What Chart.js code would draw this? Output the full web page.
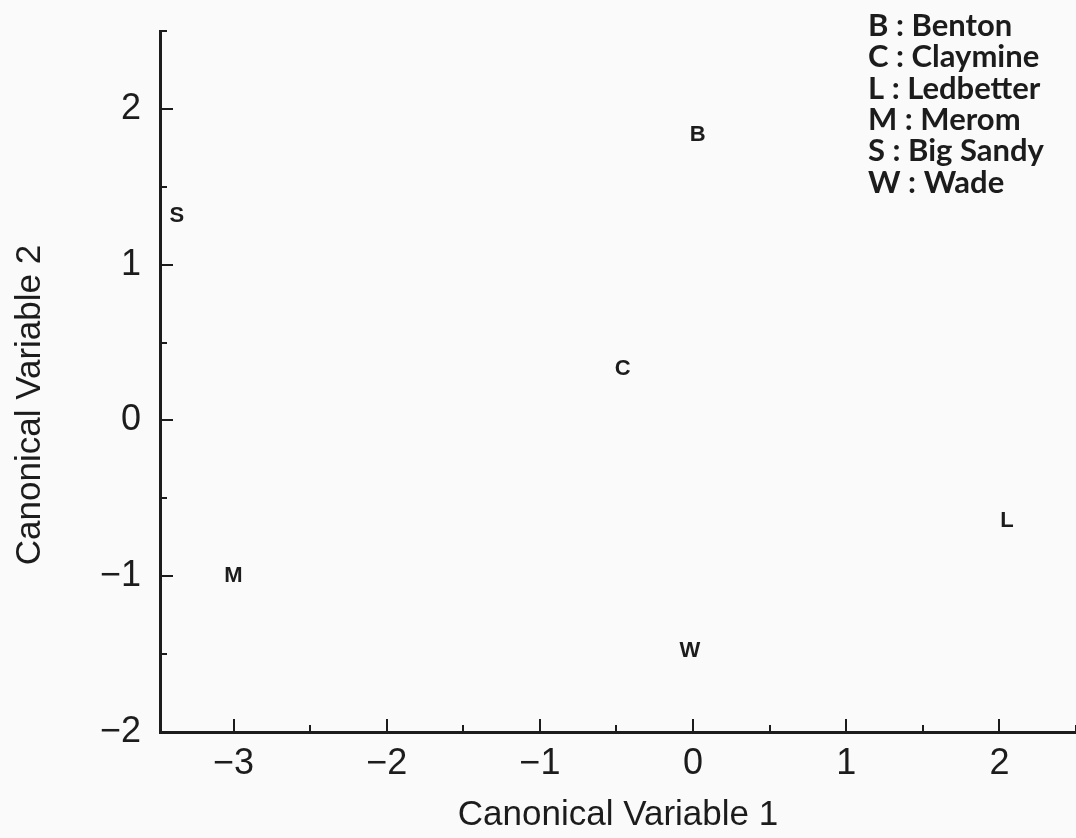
<!DOCTYPE html>
<html>
<head>
<meta charset="utf-8">
<script src="https://cdn.jsdelivr.net/npm/chart.js@4/dist/chart.umd.min.js"></script>
<style>
  html, body { margin: 0; padding: 0; background: #fafafa; }
  #wrap { width: 1076px; height: 838px; }
</style>
</head>
<body>
<div id="wrap"><canvas id="c" width="1076" height="838"></canvas></div>
<script>
// ---- data ----
const siteCodes = ['B', 'C', 'L', 'M', 'S', 'W'];
const siteNames = ['Benton', 'Claymine', 'Ledbetter', 'Merom', 'Big Sandy', 'Wade'];
const canon1 = [0.03, -0.46, 2.05, -3.00, -3.37, -0.02];
const canon2 = [1.84, 0.34, -0.64, -0.99, 1.32, -1.47];
const xTicks = [-3, -2, -1, 0, 1, 2];
const xTickLabels = ['\u22123', '\u22122', '\u22121', '0', '1', '2'];
const yTicks = [-2, -1, 0, 1, 2];
const yTickLabels = ['\u22122', '\u22121', '0', '1', '2'];
const xTitle = 'Canonical Variable 1';
const yTitle = 'Canonical Variable 2';

const INK = '#1c1c1c';
const points = canon1.map((x, i) => ({ x: x, y: canon2[i] }));

const inwardTicks = {
  id: 'inwardTicks',
  afterDatasetsDraw(chart) {
    const ctx = chart.ctx;
    const xs = chart.scales.x, ys = chart.scales.y;
    const area = chart.chartArea;
    ctx.save();
    ctx.strokeStyle = INK;
    ctx.lineWidth = 2;
    const xMinors = [];
    for (let i = 0; i < xTicks.length; i++) xMinors.push(xTicks[i] - 0.5);
    xMinors.push(xTicks[xTicks.length - 1] + 0.5);
    const drawX = (v, len) => {
      if (v < xs.min || v > xs.max) return;
      const px = Math.round(xs.getPixelForValue(v));
      ctx.beginPath(); ctx.moveTo(px, area.bottom); ctx.lineTo(px, area.bottom - len); ctx.stroke();
    };
    xTicks.forEach(v => drawX(v, 13));
    xMinors.forEach(v => drawX(v, 7));
    const yMinors = [];
    for (let i = 0; i < yTicks.length; i++) yMinors.push(yTicks[i] + 0.5);
    const drawY = (v, len) => {
      if (v < ys.min || v > ys.max) return;
      const py = Math.round(ys.getPixelForValue(v));
      ctx.beginPath(); ctx.moveTo(area.left, py); ctx.lineTo(area.left + len, py); ctx.stroke();
    };
    yTicks.forEach(v => drawY(v, 13));
    yMinors.forEach(v => drawY(v, 7));
    ctx.restore();
  }
};

const letterMarks = {
  id: 'letterMarks',
  afterDatasetsDraw(chart) {
    const ctx = chart.ctx;
    const meta = chart.getDatasetMeta(0);
    ctx.save();
    ctx.fillStyle = INK;
    ctx.font = 'bold 22px "Liberation Sans", Arial, sans-serif';
    ctx.textAlign = 'center';
    ctx.textBaseline = 'middle';
    meta.data.forEach((el, i) => {
      ctx.fillText(siteCodes[i], el.x, el.y + 1);
    });
    ctx.restore();
  }
};

const siteKey = {
  id: 'siteKey',
  afterDraw(chart) {
    const ctx = chart.ctx;
    ctx.save();
    ctx.fillStyle = INK;
    ctx.font = 'bold 31px Lato, "Open Sans", sans-serif';
    ctx.textAlign = 'left';
    ctx.textBaseline = 'alphabetic';
    siteCodes.forEach((c, i) => {
      ctx.fillText(c + ' : ' + siteNames[i], 868, 36 + i * 31.3);
    });
    ctx.restore();
  }
};

const yAxisTitle = {
  id: 'yAxisTitle',
  afterDraw(chart) {
    const ctx = chart.ctx;
    ctx.save();
    ctx.fillStyle = INK;
    ctx.font = '35px "Liberation Sans", Arial, sans-serif';
    ctx.textAlign = 'center';
    ctx.textBaseline = 'middle';
    ctx.translate(30, 405);
    ctx.rotate(-Math.PI / 2);
    ctx.fillText(yTitle, 0, 0);
    ctx.restore();
  }
};

const tickFont = { family: '"Liberation Sans", Arial, sans-serif', size: 36 };

new Chart(document.getElementById('c'), {
  type: 'scatter',
  data: {
    datasets: [{
      label: 'sites',
      data: points,
      pointRadius: 0,
      pointHoverRadius: 0,
      showLine: false
    }]
  },
  options: {
    responsive: false,
    animation: false,
    events: [],
    layout: { padding: { top: 31, left: 0, right: 0, bottom: 0 } },
    plugins: {
      legend: { display: false },
      tooltip: { enabled: false }
    },
    scales: {
      x: {
        type: 'linear',
        min: -3.48,
        max: 2.5,
        afterBuildTicks: s => { s.ticks = xTicks.map(v => ({ value: v })); },
        afterFit: s => { s.height = 106; s.paddingLeft = 0; s.paddingRight = 0; },
        grid: { display: true, drawOnChartArea: false, drawTicks: false },
        border: { display: true, color: INK, width: 3 },
        ticks: {
          autoSkip: false,
          maxRotation: 0,
          padding: 10,
          color: INK,
          font: tickFont,
          callback: (v) => { const i = xTicks.indexOf(v); return i >= 0 ? xTickLabels[i] : ''; }
        },
        title: {
          display: true,
          text: xTitle,
          color: INK,
          font: { family: '"Liberation Sans", Arial, sans-serif', size: 35 },
          padding: { top: 0, bottom: 2 }
        }
      },
      y: {
        type: 'linear',
        min: -2,
        max: 2.5,
        afterBuildTicks: s => { s.ticks = yTicks.map(v => ({ value: v })); },
        afterFit: s => { s.width = 160; s.paddingTop = 0; s.paddingBottom = 0; },
        grid: { display: true, drawOnChartArea: false, drawTicks: false },
        border: { display: true, color: INK, width: 3 },
        ticks: {
          autoSkip: false,
          padding: 19,
          color: INK,
          font: tickFont,
          callback: (v) => { const i = yTicks.indexOf(v); return i >= 0 ? yTickLabels[i] : ''; }
        }
      }
    }
  },
  plugins: [inwardTicks, letterMarks, siteKey, yAxisTitle]
});
</script>
</body>
</html>
